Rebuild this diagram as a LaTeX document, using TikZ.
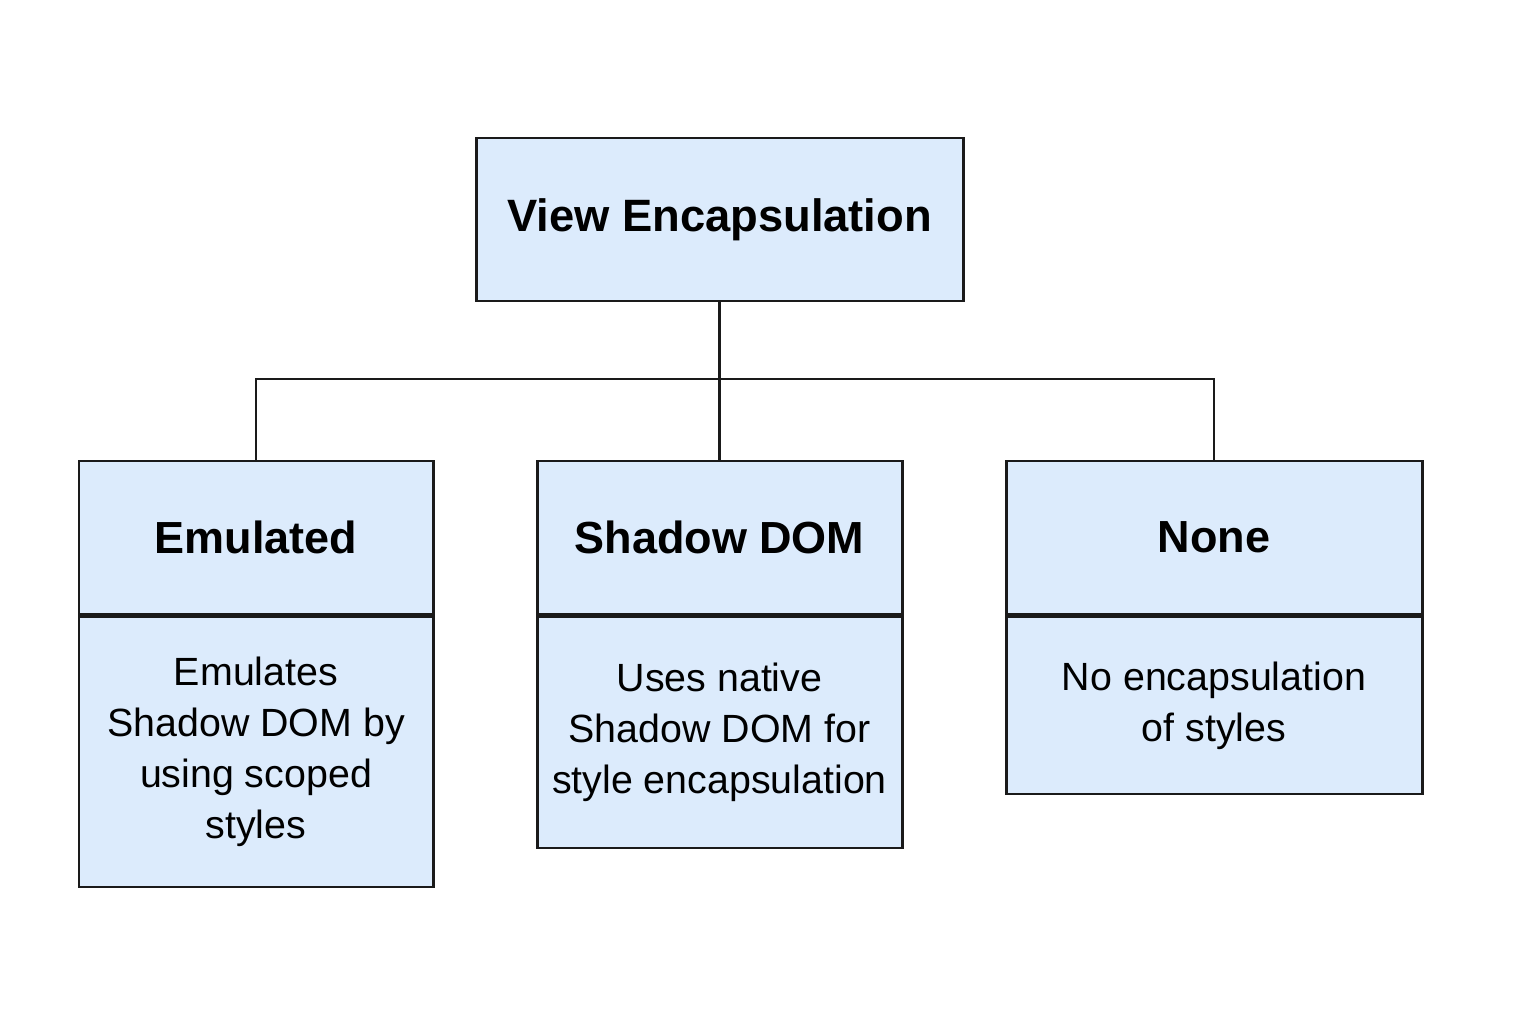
\documentclass[tikz,border=0pt]{standalone}
\usepackage{fontspec}
\setmainfont{Liberation Sans}
\usepackage{xcolor}
\usetikzlibrary{positioning}
\definecolor{boxblue}{HTML}{DCEBFC}
\definecolor{edge}{HTML}{1A1A1A}

\begin{document}
\begin{tikzpicture}[
        box/.style={draw=edge, line width=0.85pt, fill=boxblue, rectangle, inner sep=0pt, align=center},
        headbox/.style={box, minimum height=1.53cm, font=\fontsize{12.8}{15}\selectfont\bfseries},
        bodybox/.style={box, font=\fontsize{11.2}{14.5}\selectfont},
        link/.style={draw=edge, line width=0.75pt}
    ]
                \useasboundingbox (0,0) rectangle (15.36,10.24);
                \node[box, minimum width=4.87cm, minimum height=1.63cm, font=\fontsize{12.9}{15}\selectfont\bfseries] (root) at (7.195,8.045) {View Encapsulation};

                % the three modes
                \node[headbox, minimum width=3.54cm] (emuhead) at (2.56,4.865) {Emulated};
                \node[bodybox, minimum width=3.54cm, minimum height=2.7cm, below=0pt of emuhead] (emubody) {Emulates\\Shadow DOM by\\using scoped\\styles};

                \node[headbox, minimum width=3.65cm] (shadowhead) at (7.195,4.865) {Shadow DOM};
                \node[bodybox, minimum width=3.65cm, minimum height=2.31cm, below=0pt of shadowhead] (shadowbody) {Uses native\\Shadow DOM for\\style encapsulation};

                \node[headbox, minimum width=4.16cm] (nonehead) at (12.14,4.865) {None};
                \node[bodybox, minimum width=4.16cm, minimum height=1.77cm, below=0pt of nonehead] (nonebody) {No encapsulation\\of styles};

                \coordinate (bar) at (0,6.45);
                \draw[link] (root.south) -- (shadowhead.north);
                \draw[link] (emuhead.north) |- (nonehead.north |- bar) -- (nonehead.north);
            \end{tikzpicture}
\end{document}
